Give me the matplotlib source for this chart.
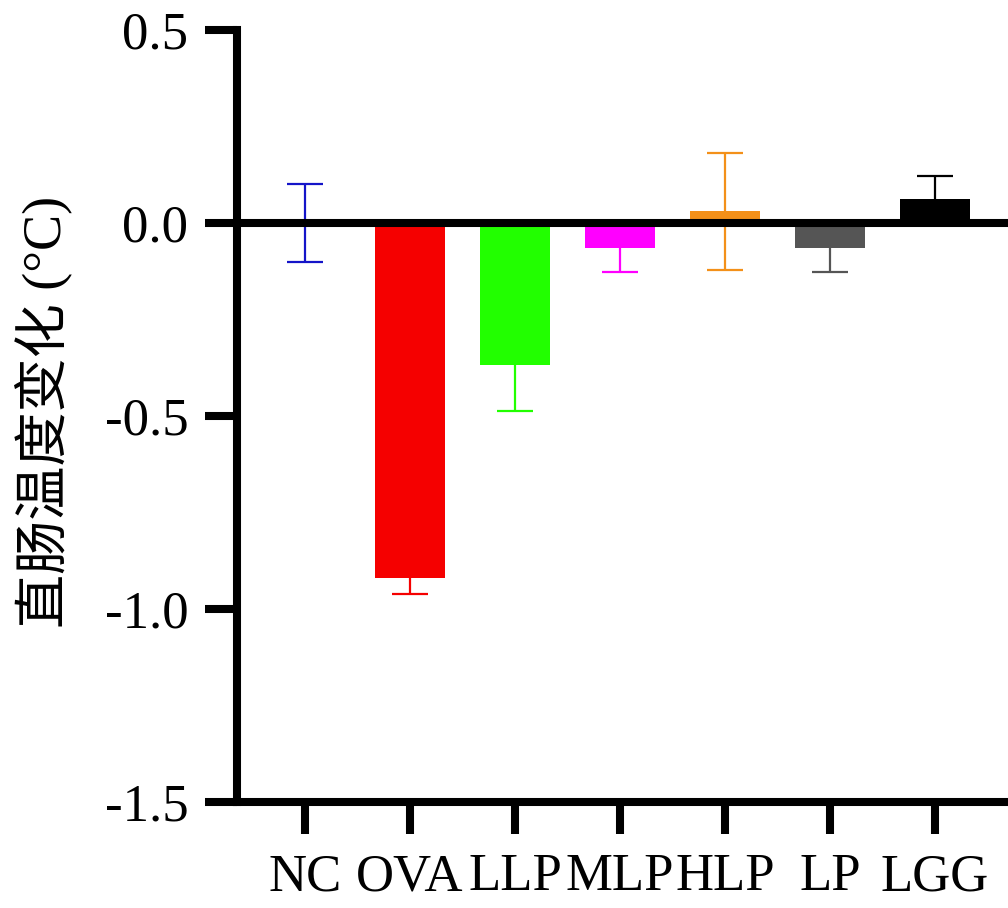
import matplotlib
matplotlib.use("Agg")
import matplotlib.pyplot as plt

# dados
grupos = ["NC", "OVA", "LLP", "MLP", "HLP", "LP", "LGG"]
medias = [0.0, -0.92, -0.368, -0.065, 0.03, -0.065, 0.062]
erros = [0.10, 0.04, 0.12, 0.062, 0.152, 0.062, 0.06]
cores = ["#1414c8", "#f50000", "#22ff00", "#ff00ff", "#f39019", "#555555", "#000000"]
yticks = [-1.5, -1.0, -0.5, 0.0, 0.5]

plt.rcParams["font.family"] = ["Liberation Serif", "Noto Sans CJK SC"]

fig = plt.figure(figsize=(10.08, 9.08), dpi=100, facecolor="white")
ax = fig.add_axes([0.2351, 0.1167, 0.7649, 0.8503])

x = list(range(len(grupos)))

# barras de erro por trás das barras
for i in x:
    ax.errorbar(i, medias[i], yerr=erros[i], color=cores[i], elinewidth=1.6,
                capsize=13, capthick=1.6, fmt="none", zorder=2)

ax.bar(x, medias, width=0.667, color=cores, zorder=3)

# linha do zero grossa
ax.axhline(0, color="black", lw=5.8, zorder=4)

ax.set_xlim(-0.648, 6.695)
ax.set_ylim(-1.5, 0.5)
ax.set_yticks(yticks)
ax.set_yticklabels([f"{v:.1f}" for v in yticks])
ax.set_xticks(x)
ax.set_xticklabels(grupos)

for s in ["top", "right"]:
    ax.spines[s].set_visible(False)
for s in ["left", "bottom"]:
    ax.spines[s].set_linewidth(5.8)
    ax.spines[s].set_capstyle("projecting")

ax.tick_params(axis="both", width=5.8, length=23, labelsize=38, color="black")
ax.tick_params(axis="y", pad=12)
ax.tick_params(axis="x", pad=14)

ax.set_ylabel("直肠温度变化 (°C)", fontsize=39)
ax.yaxis.set_label_coords(-0.214, 0.505)

fig.savefig("out.png", dpi=100, facecolor="white")
